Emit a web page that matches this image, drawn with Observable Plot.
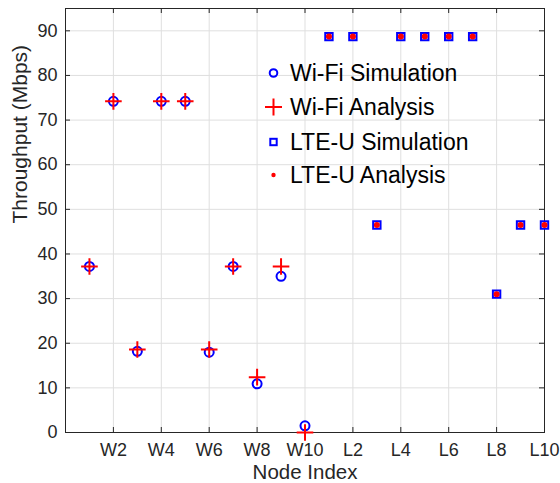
<!DOCTYPE html>
<html>
<head>
<meta charset="utf-8">
<script src="https://cdn.jsdelivr.net/npm/d3@7"></script>
<script src="https://cdn.jsdelivr.net/npm/@observablehq/plot@0.6"></script>
<style>
  html, body { margin: 0; padding: 0; background: #fff; }
  #chart { position: relative; width: 560px; height: 483px; }
  svg { font-family: "Liberation Sans", Arial, Helvetica, sans-serif; }
</style>
</head>
<body>
<div id="chart"></div>
<script>
// ---- data ----
const nodes = ["W1","W2","W3","W4","W5","W6","W7","W8","W9","W10",
               "L1","L2","L3","L4","L5","L6","L7","L8","L9","L10"];
const wifiNodes = ["W1","W2","W3","W4","W5","W6","W7","W8","W9","W10"];
const wifiSimulation = [37.2, 74.2, 18.2, 74.2, 74.2, 18.0, 37.2, 10.9, 35.0, 1.5];
const wifiAnalysis   = [37.2, 74.2, 18.6, 74.2, 74.2, 18.6, 37.2, 12.4, 37.2, 0.0];
const lteNodes = ["L1","L2","L3","L4","L5","L6","L7","L8","L9","L10"];
const lteSimulation = [88.7, 88.7, 46.5, 88.7, 88.7, 88.7, 88.7, 31.0, 46.5, 46.5];
const lteAnalysis   = [88.7, 88.7, 46.5, 88.7, 88.7, 88.7, 88.7, 31.0, 46.5, 46.5];
const xTickLabels = ["W2","W4","W6","W8","W10","L2","L4","L6","L8","L10"];
const yTicks = [0,10,20,30,40,50,60,70,80,90];
const legendLabels = ["Wi-Fi Simulation","Wi-Fi Analysis","LTE-U Simulation","LTE-U Analysis"];

const idx = n => nodes.indexOf(n) + 1;
const xTicks = xTickLabels.map(idx);
const wifiSimData = wifiNodes.map((n, i) => ({x: idx(n), y: wifiSimulation[i]}));
const wifiAnaData = wifiNodes.map((n, i) => ({x: idx(n), y: wifiAnalysis[i]}));
const lteSimData = lteNodes.map((n, i) => ({x: idx(n), y: lteSimulation[i]}));
const lteAnaData = lteNodes.map((n, i) => ({x: idx(n), y: lteAnalysis[i]}));

const plusSym = {draw(ctx, size) { const r = Math.sqrt(size / Math.PI);
  ctx.moveTo(-r, 0); ctx.lineTo(r, 0); ctx.moveTo(0, -r); ctx.lineTo(0, r); }};
const squareSym = {draw(ctx, size) { const r = Math.sqrt(size / Math.PI);
  ctx.rect(-r, -r, 2 * r, 2 * r); }};

const BLUE = "#0000ff", RED = "#ff0000", AX = "#262626", GRID = "#dfdfdf";
const W = 560, H = 483, ML = 65, MR = 16, MT = 8, MB = 51;
const fw = W - ML - MR, fh = H - MT - MB;

const chart = Plot.plot({
  width: W, height: H,
  marginLeft: ML, marginRight: MR, marginTop: MT, marginBottom: MB,
  style: {fontFamily: '"Liberation Sans", Arial, Helvetica, sans-serif', background: "#fff", overflow: "visible"},
  x: {type: "linear", domain: [0, 20]},
  y: {type: "linear", domain: [0, 95]},
  marks: [
    Plot.gridX(xTicks, {stroke: GRID, strokeOpacity: 1, strokeWidth: 1}),
    Plot.gridY(yTicks, {stroke: GRID, strokeOpacity: 1, strokeWidth: 1}),
    // inward ticks
    Plot.tickX(xTicks, {x: d => d, stroke: AX, insetTop: fh - 5}),
    Plot.tickX(xTicks, {x: d => d, stroke: AX, insetBottom: fh - 5}),
    Plot.tickY(yTicks, {y: d => d, stroke: AX, insetRight: fw - 5}),
    Plot.tickY(yTicks, {y: d => d, stroke: AX, insetLeft: fw - 5}),
    Plot.frame({stroke: AX, strokeWidth: 1}),
    Plot.axisX(xTicks, {tickSize: 0, tickPadding: 11, fontSize: 18, fill: AX,
      tickFormat: (d, i) => xTickLabels[i], label: null}),
    Plot.axisY(yTicks, {tickSize: 0, tickPadding: 8, fontSize: 18, fill: AX, label: null}),
    Plot.text(["Node Index"], {frameAnchor: "bottom", dy: 40, fontSize: 20.5, fill: AX, lineAnchor: "middle"}),
    Plot.text(["Throughput (Mbps)"], {frameAnchor: "left", dx: -45, dy: 3, rotate: -90, fontSize: 21, fill: AX, lineAnchor: "middle"}),
    // data
    Plot.dot(wifiSimData, {x: "x", y: "y", r: 4.5, symbol: "circle", fill: "none", stroke: BLUE, strokeWidth: 2}),
    Plot.dot(wifiAnaData, {x: "x", y: "y", r: 8.3, symbol: plusSym, fill: "none", stroke: RED, strokeWidth: 2}),
    Plot.dot(lteSimData, {x: "x", y: "y", r: 3.7, symbol: squareSym, fill: "none", stroke: BLUE, strokeWidth: 2}),
    Plot.dot(lteAnaData, {x: "x", y: "y", r: 3, symbol: "circle", fill: RED, stroke: "none"})
  ]
});
document.getElementById("chart").appendChild(chart);

// legend (inside plot area, no box)
const svg = d3.select(chart);
const lg = svg.append("g")
  .attr("font-family", '"Liberation Sans", Arial, Helvetica, sans-serif')
  .attr("text-anchor", "start");
const rows = [73, 107, 142, 175];
const mx = 273.5, tx = 290;
const sym = [
  g => g.append("circle").attr("r", 3.8).attr("fill", "none").attr("stroke", BLUE).attr("stroke-width", 2),
  g => g.append("path").attr("d", "M-8.5,0H8.5M0,-8.5V8.5").attr("fill", "none").attr("stroke", RED).attr("stroke-width", 2),
  g => g.append("rect").attr("x", -3.2).attr("y", -3.2).attr("width", 6.4).attr("height", 6.4).attr("fill", "none").attr("stroke", BLUE).attr("stroke-width", 2),
  g => g.append("circle").attr("r", 2.2).attr("fill", RED)
];
legendLabels.forEach((t, i) => {
  const g = lg.append("g").attr("transform", `translate(${mx},${rows[i]})`);
  sym[i](g);
  lg.append("text").attr("x", tx).attr("y", rows[i]).attr("dy", "0.35em")
    .attr("text-anchor", "start")
    .attr("font-size", 23).attr("fill", "#000").text(t);
});
</script>
</body>
</html>
